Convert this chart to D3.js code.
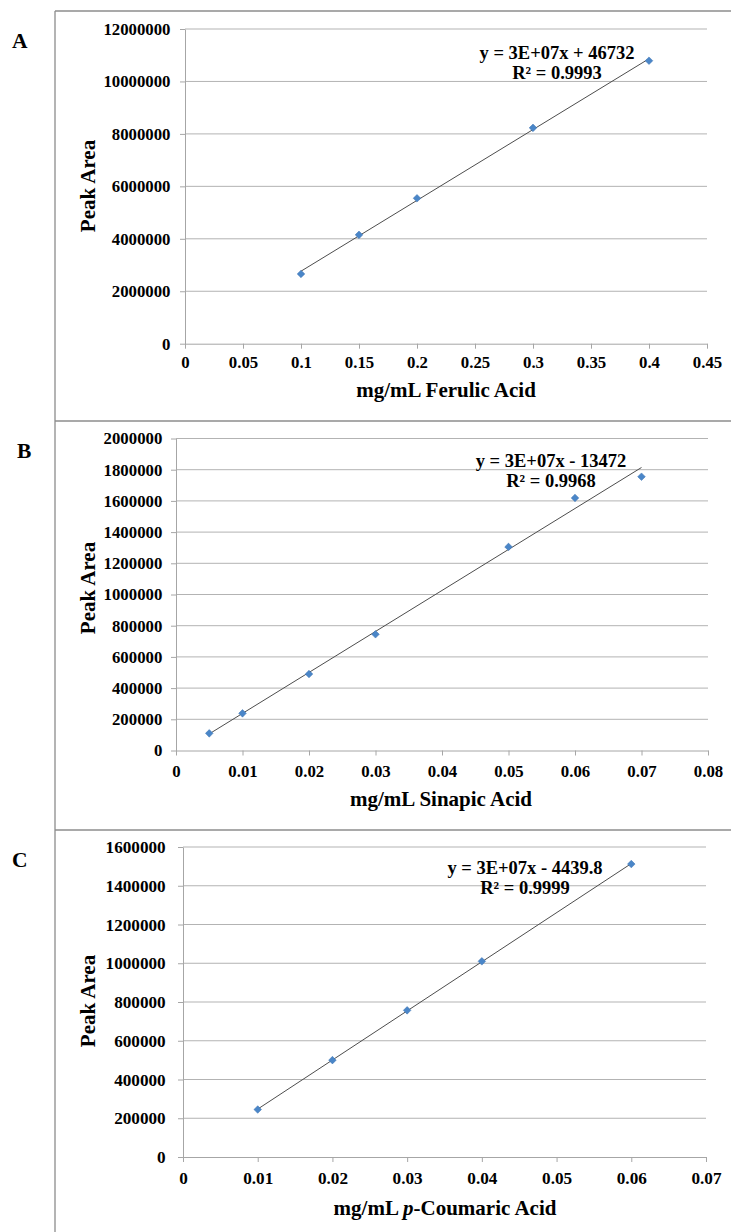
<!DOCTYPE html>
<html>
<head>
<meta charset="utf-8">
<script src="https://cdn.jsdelivr.net/npm/d3@7"></script>
<style>
  html, body { margin: 0; padding: 0; background: #fff; }
  svg { display: block; font-family: "Liberation Serif", "Times New Roman", serif; font-weight: bold; }
</style>
</head>
<body>
<svg id="chart" width="731" height="1232"></svg>
<script>
// HPLC calibration standards: concentration (mg/mL) vs peak area
const ferulicConc = [0.1, 0.15, 0.2, 0.3, 0.4];
const ferulicArea = [2660000, 4150000, 5545000, 8230000, 10790000];

const sinapicConc = [0.005, 0.01, 0.02, 0.03, 0.05, 0.06, 0.07];
const sinapicArea = [110000, 238000, 490000, 745000, 1305000, 1619000, 1755000];

const coumaricConc = [0.01, 0.02, 0.03, 0.04, 0.06];
const coumaricArea = [245000, 500000, 757000, 1010000, 1512000];

// Axis ticks
const ferulicXTicks = [0, 0.05, 0.1, 0.15, 0.2, 0.25, 0.3, 0.35, 0.4, 0.45];
const ferulicYTicks = [0, 2000000, 4000000, 6000000, 8000000, 10000000, 12000000];
const sinapicXTicks = [0, 0.01, 0.02, 0.03, 0.04, 0.05, 0.06, 0.07, 0.08];
const sinapicYTicks = [0, 200000, 400000, 600000, 800000, 1000000, 1200000, 1400000, 1600000, 1800000, 2000000];
const coumaricXTicks = [0, 0.01, 0.02, 0.03, 0.04, 0.05, 0.06, 0.07];
const coumaricYTicks = [0, 200000, 400000, 600000, 800000, 1000000, 1200000, 1400000, 1600000];

// Trendline annotations
const ferulicEquation = ["y = 3E+07x + 46732", "R\u00B2 = 0.9993"];
const sinapicEquation = ["y = 3E+07x - 13472", "R\u00B2 = 0.9968"];
const coumaricEquation = ["y = 3E+07x - 4439.8", "R\u00B2 = 0.9999"];

const yTitle = "Peak Area";

const svg = d3.select("#chart");

// Panel frame lines
const frame = svg.append("g").attr("stroke", "#8c8c8c").attr("stroke-width", 1.3);
frame.append("line").attr("x1", 55).attr("x2", 55).attr("y1", 11).attr("y2", 1232);
[11, 421, 830].forEach(y => {
  frame.append("line").attr("x1", 55).attr("x2", 731).attr("y1", y).attr("y2", y);
});

const panels = [
  {
    letter: "A", letterX: 12, letterY: 48,
    xs: ferulicConc, ys: ferulicArea, xTicks: ferulicXTicks, yTicks: ferulicYTicks,
    left: 185, right: 707, top: 29, bottom: 343.7,
    tickFont: 16.8, yPad: 9.5, xLabelDy: 24.5,
    title: [{t: "mg/mL Ferulic Acid"}], titleX: 446, titleY: 397,
    eq: ferulicEquation, eqX: 557, eqY: 59,
    yTitleY: 186
  },
  {
    letter: "B", letterX: 17, letterY: 458,
    xs: sinapicConc, ys: sinapicArea, xTicks: sinapicXTicks, yTicks: sinapicYTicks,
    left: 176, right: 708, top: 438.5, bottom: 750.5,
    tickFont: 16.8, yPad: 8.7, xLabelDy: 26.5,
    title: [{t: "mg/mL Sinapic Acid"}], titleX: 441, titleY: 806,
    eq: sinapicEquation, eqX: 551, eqY: 467,
    yTitleY: 588
  },
  {
    letter: "C", letterX: 12, letterY: 867,
    xs: coumaricConc, ys: coumaricArea, xTicks: coumaricXTicks, yTicks: coumaricYTicks,
    left: 183, right: 706, top: 847, bottom: 1157,
    tickFont: 17.2, yPad: 12.3, xLabelDy: 27,
    title: [{t: "mg/mL "}, {t: "p", italic: true}, {t: "-Coumaric Acid"}], titleX: 445, titleY: 1215,
    eq: coumaricEquation, eqX: 525, eqY: 873.5,
    yTitleY: 1001
  }
];

function leastSquares(xs, ys) {
  const n = xs.length;
  const mx = d3.mean(xs), my = d3.mean(ys);
  let sxy = 0, sxx = 0;
  for (let i = 0; i < n; i++) {
    sxy += (xs[i] - mx) * (ys[i] - my);
    sxx += (xs[i] - mx) * (xs[i] - mx);
  }
  const slope = sxy / sxx;
  return { slope, intercept: my - slope * mx };
}

const diamond = r => `M0,${-r}L${r},0L0,${r}L${-r},0Z`;

panels.forEach(p => {
  const g = svg.append("g");
  const x = d3.scaleLinear().domain([p.xTicks[0], p.xTicks[p.xTicks.length - 1]]).range([p.left, p.right]);
  const y = d3.scaleLinear().domain([p.yTicks[0], p.yTicks[p.yTicks.length - 1]]).range([p.bottom, p.top]);

  // Panel letter
  g.append("text").attr("x", p.letterX).attr("y", p.letterY)
    .attr("font-size", 21.5).attr("fill", "#000").text(p.letter);

  // Horizontal gridlines
  g.append("g").selectAll("line").data(p.yTicks.slice(1)).join("line")
    .attr("x1", p.left).attr("x2", p.right)
    .attr("y1", d => y(d)).attr("y2", d => y(d))
    .attr("stroke", "#b3b3b3").attr("stroke-width", 1);

  // Y axis
  const ya = g.append("g").attr("transform", `translate(${p.left},0)`)
    .call(d3.axisLeft(y).tickValues(p.yTicks).tickSize(5).tickPadding(p.yPad).tickFormat(d => String(d)).tickSizeOuter(0));
  ya.select(".domain").attr("stroke", "#a6a6a6");
  ya.selectAll(".tick line").attr("stroke", "#a6a6a6");
  ya.selectAll(".tick text").attr("font-size", p.tickFont).attr("fill", "#000")
    .attr("font-family", "'Liberation Serif', serif").attr("font-weight", "bold");

  // X axis
  const xa = g.append("g").attr("transform", `translate(0,${p.bottom})`)
    .call(d3.axisBottom(x).tickValues(p.xTicks).tickSize(5).tickFormat(d => String(d)).tickSizeOuter(0));
  xa.select(".domain").attr("stroke", "#a6a6a6");
  xa.selectAll(".tick line").attr("stroke", "#a6a6a6");
  xa.selectAll(".tick text").attr("font-size", p.tickFont).attr("fill", "#000")
    .attr("font-family", "'Liberation Serif', serif").attr("font-weight", "bold")
    .attr("y", p.xLabelDy).attr("dy", 0);

  // Axis titles
  const xt = g.append("text").attr("x", p.titleX).attr("y", p.titleY)
    .attr("text-anchor", "middle").attr("font-size", 21).attr("fill", "#000");
  p.title.forEach(s => {
    xt.append("tspan").attr("font-style", s.italic ? "italic" : "normal").text(s.t);
  });
  g.append("text")
    .attr("transform", `translate(95,${p.yTitleY}) rotate(-90)`)
    .attr("text-anchor", "middle").attr("font-size", 21).attr("fill", "#000")
    .text(yTitle);

  // Linear trendline over the measured range
  const fit = leastSquares(p.xs, p.ys);
  const x0 = d3.min(p.xs), x1 = d3.max(p.xs);
  g.append("line")
    .attr("x1", x(x0)).attr("y1", y(fit.slope * x0 + fit.intercept))
    .attr("x2", x(x1)).attr("y2", y(fit.slope * x1 + fit.intercept))
    .attr("stroke", "#4d4d4d").attr("stroke-width", 1);

  // Data markers
  g.append("g").selectAll("path").data(p.xs.map((d, i) => [d, p.ys[i]])).join("path")
    .attr("transform", d => `translate(${x(d[0])},${y(d[1])})`)
    .attr("d", diamond(3.8))
    .attr("fill", "#4a86c8").attr("stroke", "#3d72b0").attr("stroke-width", 0.5);

  // Equation + R squared
  p.eq.forEach((line, i) => {
    g.append("text").attr("x", p.eqX).attr("y", p.eqY + i * 20)
      .attr("text-anchor", "middle").attr("font-size", 18.5).attr("fill", "#000")
      .text(line);
  });
});
</script>
</body>
</html>
